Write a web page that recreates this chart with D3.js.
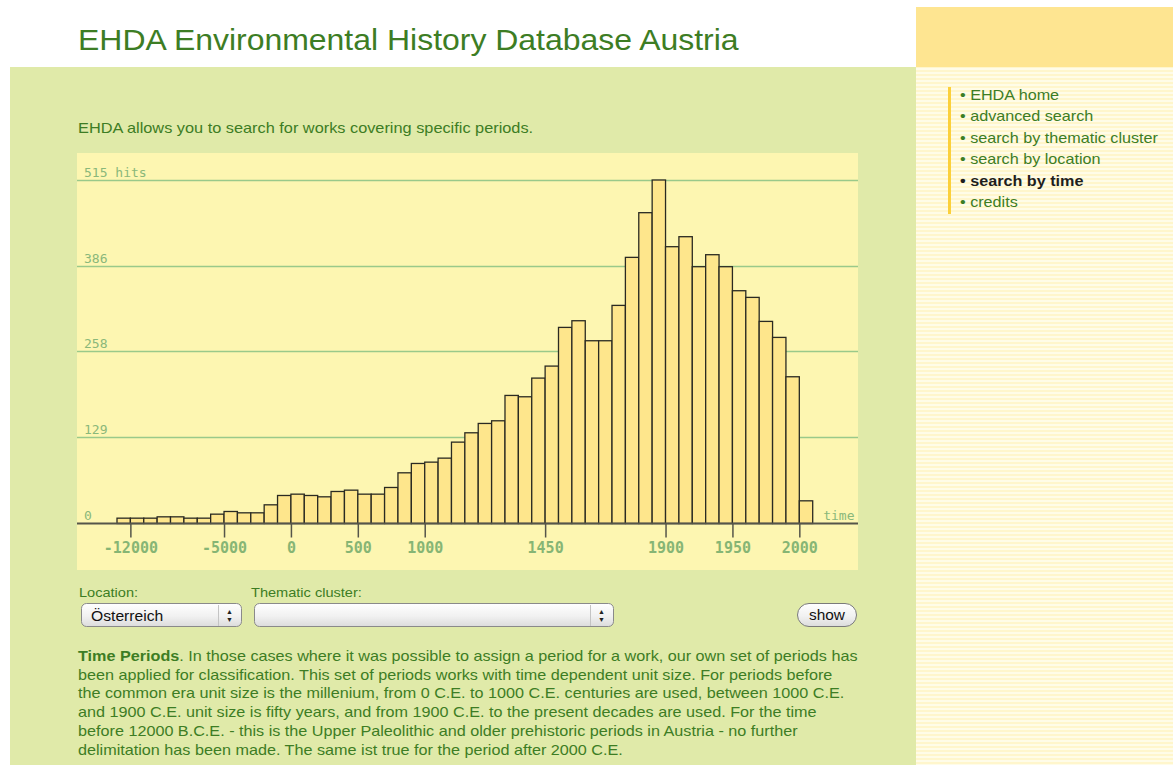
<!DOCTYPE html>
<html>
<head>
<meta charset="utf-8">
<title>EHDA search by time</title>
<script src="https://cdn.jsdelivr.net/npm/d3@7"></script>
<style>
    html, body { margin: 0; padding: 0; background: #ffffff; }
    svg { display: block; }
    text { font-family: "Liberation Sans", Arial, sans-serif; }
    .mono { font-family: "DejaVu Sans Mono", monospace; }
</style>
</head>
<body>
<div id="page"></div>
<script>
// time periods (start of every bin), "pre" is everything before 12000 B.C.E.
var categories = ["pre", "-12000", "-11000", "-10000", "-9000", "-8000", "-7000", "-6000", "-5000", "-4000",
    "-3000", "-2000", "-1000", "0", "100", "200", "300", "400", "500", "600", "700", "800", "900",
    "1000", "1050", "1100", "1150", "1200", "1250", "1300", "1350", "1400", "1450", "1500", "1550",
    "1600", "1650", "1700", "1750", "1800", "1850", "1900", "1910", "1920", "1930", "1940", "1950",
    "1960", "1970", "1980", "1990", "2000"];
// number of works (hits) per period
var hits = [8, 8, 8, 10, 10, 8, 8, 14, 18, 16,
    16, 28, 42, 44, 42, 40, 48, 50, 44, 44,
    54, 76, 90, 92, 98, 122, 136, 150, 154, 192,
    190, 218, 236, 294, 304, 274, 274, 327, 399, 466,
    515, 415, 430, 385, 403, 385, 349, 339, 303, 279,
    220, 34];
var xTickLabels = ["-12000", "-5000", "0", "500", "1000", "1450", "1900", "1950", "2000"];
var yTickValues = [0, 129, 258, 386, 515];

var menuItems = ["EHDA home", "advanced search", "search by thematic cluster", "search by location",
    "search by time", "credits"];
var activeItem = "search by time";
var textLines = [
    "In those cases where it was possible to assign a period for a work, our own set of periods has",
    "been applied for classification. This set of periods works with time dependent unit size. For periods before",
    "the common era unit size is the millenium, from 0 C.E. to 1000 C.E. centuries are used, between 1000 C.E.",
    "and 1900 C.E. unit size is fifty years, and from 1900 C.E. to the present decades are used. For the time",
    "before 12000 B.C.E. - this is the Upper Paleolithic and older prehistoric periods in Austria - no further",
    "delimitation has been made. The same ist true for the period after 2000 C.E."
];

var W = 1173, H = 765;
var green = "#3d7d24";

// the original page font runs wider than Liberation Sans, so texts get stretched a bit
function stretch(sel, ratio) {
    sel.each(function () {
        var len = this.getComputedTextLength();
        d3.select(this).attr("textLength", len * ratio).attr("lengthAdjust", "spacingAndGlyphs");
    });
}

var svg = d3.select("#page").append("svg").attr("width", W).attr("height", H);

// stripes for the side column
var defs = svg.append("defs");
var pat = defs.append("pattern").attr("id", "stripes").attr("patternUnits", "userSpaceOnUse")
    .attr("width", 4).attr("height", 4);
pat.append("rect").attr("width", 4).attr("height", 4).attr("fill", "#fffce8");
pat.append("rect").attr("y", 2).attr("width", 4).attr("height", 2).attr("fill", "#fff6cc");

var grad = defs.append("linearGradient").attr("id", "btn").attr("x1", 0).attr("x2", 0).attr("y1", 0).attr("y2", 1);
grad.append("stop").attr("offset", "0%").attr("stop-color", "#ffffff");
grad.append("stop").attr("offset", "55%").attr("stop-color", "#f1f1f1");
grad.append("stop").attr("offset", "100%").attr("stop-color", "#dcdcdc");

// page background blocks
svg.append("rect").attr("x", 10).attr("y", 67).attr("width", 906).attr("height", H - 67).attr("fill", "#e0eaa9");
svg.append("rect").attr("x", 916).attr("y", 7).attr("width", W - 916).attr("height", 60).attr("fill", "#fee591");
svg.append("rect").attr("x", 916).attr("y", 67).attr("width", W - 916).attr("height", H - 67).attr("fill", "url(#stripes)");

svg.append("text").attr("x", 78).attr("y", 50).attr("font-size", 30).attr("fill", green)
    .text("EHDA Environmental History Database Austria")
    .call(stretch, 1.065);

svg.append("text").attr("x", 78).attr("y", 133).attr("font-size", 14.5).attr("fill", green)
    .text("EHDA allows you to search for works covering specific periods.")
    .call(stretch, 1.125);

// side menu
svg.append("rect").attr("x", 948).attr("y", 87).attr("width", 3).attr("height", 127).attr("fill", "#fbd03c");
svg.append("g").selectAll("text").data(menuItems).join("text")
    .attr("x", 960)
    .attr("y", function (d, i) { return 100 + i * 21.4; })
    .attr("font-size", 14.5)
    .attr("font-weight", function (d) { return d === activeItem ? "bold" : "normal"; })
    .attr("fill", function (d) { return d === activeItem ? "#1e1e1e" : green; })
    .text(function (d) { return "\u2022 " + d; })
    .call(stretch, 1.115);

// ---- the histogram ----
var panel = { x: 77, y: 153, w: 781, h: 417 };
var g = svg.append("g").attr("transform", "translate(" + panel.x + "," + panel.y + ")");
g.append("rect").attr("width", panel.w).attr("height", panel.h).attr("fill", "#fdf6b1");

var x = d3.scaleBand().domain(categories).range([40, 735.7]).paddingInner(0).paddingOuter(0);
// bin edges, used for the axis ticks (ticks sit on the period borders)
var xEdge = d3.scaleLinear().domain([0, categories.length]).range(x.range());
var y = d3.scaleLinear().domain([0, 515]).range([370.5, 27]);

// grid
g.append("g").selectAll("line").data(yTickValues.slice(1)).join("line")
    .attr("x1", 0).attr("x2", panel.w)
    .attr("y1", function (d) { return Math.round(y(d)) + 0.5; })
    .attr("y2", function (d) { return Math.round(y(d)) + 0.5; })
    .attr("stroke", "#9ac98a").attr("stroke-width", 1.6);

g.append("g").selectAll("text").data(yTickValues).join("text")
    .attr("class", "mono")
    .attr("x", 7)
    .attr("y", function (d) { return y(d) - 3.5; })
    .attr("font-size", 13).attr("fill", "#8ab87a")
    .text(function (d) { return d === 515 ? d + " hits" : d; });

// bars
g.append("g").selectAll("rect").data(hits).join("rect")
    .attr("x", function (d, i) { return x(categories[i]); })
    .attr("y", function (d) { return y(d); })
    .attr("width", x.bandwidth())
    .attr("height", function (d) { return y(0) - y(d); })
    .attr("fill", "#fee68c")
    .attr("stroke", "#2a2a22")
    .attr("stroke-width", 1.3);

// x axis
var xAxis = d3.axisBottom(xEdge)
    .tickValues(xTickLabels.map(function (l) { return categories.indexOf(l); }))
    .tickFormat(function (i) { return categories[i]; })
    .tickSize(14)
    .tickPadding(4);
var ax = g.append("g").attr("transform", "translate(0," + y(0) + ")").call(xAxis);
ax.select(".domain").remove();
ax.selectAll(".tick line").attr("stroke", "#55554a").attr("stroke-width", 1.5);
ax.selectAll(".tick text")
    .attr("class", "mono")
    .attr("font-size", 15).attr("font-weight", "bold").attr("fill", "#86b574")
    .attr("dy", "0.75em");

g.append("line").attr("x1", 0).attr("x2", panel.w).attr("y1", y(0)).attr("y2", y(0))
    .attr("stroke", "#55554a").attr("stroke-width", 2);

g.append("text").attr("class", "mono").attr("x", panel.w - 3.5).attr("y", y(0) - 3.5)
    .attr("text-anchor", "end").attr("font-size", 13).attr("fill", "#8ab87a").text("time");

// ---- form controls ----
function selectBox(x0, w, label) {
    var s = svg.append("g").attr("transform", "translate(" + x0 + ",603)");
    s.append("rect").attr("x", 0.5).attr("y", 0.5).attr("width", w).attr("height", 23).attr("rx", 5)
        .attr("fill", "url(#btn)").attr("stroke", "#8a8a8a");
    s.append("line").attr("x1", w - 22.5).attr("x2", w - 22.5).attr("y1", 2).attr("y2", 23).attr("stroke", "#c4c4c4");
    s.append("text").attr("x", w - 11.5).attr("y", 11).attr("text-anchor", "middle").attr("font-size", 7).attr("fill", "#222").text("\u25B2");
    s.append("text").attr("x", w - 11.5).attr("y", 19).attr("text-anchor", "middle").attr("font-size", 7).attr("fill", "#222").text("\u25BC");
    if (label) {
        s.append("text").attr("x", 10).attr("y", 17.5).attr("font-size", 14).attr("fill", "#111").text(label)
            .call(stretch, 1.12);
    }
}
svg.append("text").attr("x", 79).attr("y", 597).attr("font-size", 13).attr("fill", green).text("Location:")
    .call(stretch, 1.12);
svg.append("text").attr("x", 251).attr("y", 597).attr("font-size", 13).attr("fill", green).text("Thematic cluster:")
    .call(stretch, 1.12);
selectBox(81, 160, "\u00D6sterreich");
selectBox(254, 359, "");

svg.append("rect").attr("x", 797.5).attr("y", 603.5).attr("width", 59).attr("height", 23).attr("rx", 11.5)
    .attr("fill", "url(#btn)").attr("stroke", "#7a7a7a");
svg.append("text").attr("x", 827).attr("y", 620).attr("text-anchor", "middle").attr("font-size", 14)
    .attr("fill", "#111").text("show").call(stretch, 1.1);

// ---- explanation text ----
var para = svg.append("g");
para.selectAll("text").data(textLines).join("text")
    .attr("x", 78)
    .attr("y", function (d, i) { return 661 + i * 18.7; })
    .attr("font-size", 14.5).attr("fill", green)
    .each(function (d, i) {
        var t = d3.select(this);
        if (i === 0) {
            t.append("tspan").attr("font-weight", "bold").text("Time Periods");
            t.append("tspan").text(". " + d);
        } else {
            t.text(d);
        }
    })
    .call(stretch, 1.116);
</script>
</body>
</html>
